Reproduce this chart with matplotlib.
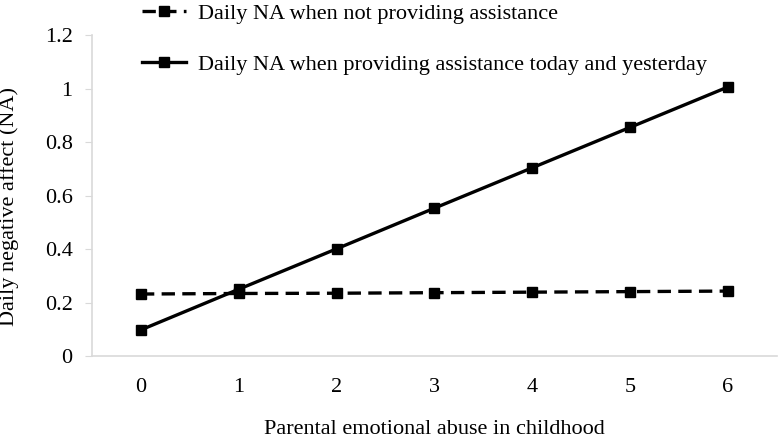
import matplotlib
matplotlib.use("Agg")
import matplotlib.pyplot as plt

# data
abuse = [0, 1, 2, 3, 4, 5, 6]
na_no_assist = [0.232, 0.234, 0.235, 0.237, 0.239, 0.241, 0.243]
na_assist = [0.098, 0.250, 0.401, 0.553, 0.704, 0.855, 1.006]
yticks = [0, 0.2, 0.4, 0.6, 0.8, 1, 1.2]
ytick_labels = ["0", "0.2", "0.4", "0.6", "0.8", "1", "1.2"]

plt.rcParams['font.family'] = ['Liberation Serif', 'DejaVu Serif']

fig = plt.figure(figsize=(7.8, 4.38), dpi=100)
ax = fig.add_axes([0.118, 0.187, 0.878, 0.733])

ax.plot(abuse, na_no_assist, color='black', lw=2.4, ls=(0, (4, 2.2)),
        marker='s', ms=7.5, label='Daily NA when not providing assistance')
ax.plot(abuse, na_assist, color='black', lw=2.4, marker='s', ms=7.5,
        label='Daily NA when providing assistance today and yesterday')

ax.set_xlim(-0.5, 6.5)
ax.set_ylim(0, 1.2)
ax.set_xticks(abuse)
ax.set_yticks(yticks)
ax.set_yticklabels(ytick_labels)
ax.tick_params(axis='x', length=0, pad=16, labelsize=16)
ax.tick_params(axis='y', length=5, color='#d9d9d9', pad=9, labelsize=16)
for s in ['top', 'right']:
    ax.spines[s].set_visible(False)
for s in ['left', 'bottom']:
    ax.spines[s].set_color('#d9d9d9')
    ax.spines[s].set_linewidth(1.2)

ax.set_xlabel('Parental emotional abuse in childhood', fontsize=16, labelpad=16)
ax.set_ylabel('Daily negative affect (NA)', fontsize=16)
ax.yaxis.set_label_coords(-0.106, 0.467)

fig.legend(loc='upper left', bbox_to_anchor=(0.182, 0.992), frameon=False,
           borderpad=0, borderaxespad=0, fontsize=16, handlelength=2.0,
           handletextpad=0.5, labelspacing=1.35)

fig.savefig('out.png', dpi=100)
